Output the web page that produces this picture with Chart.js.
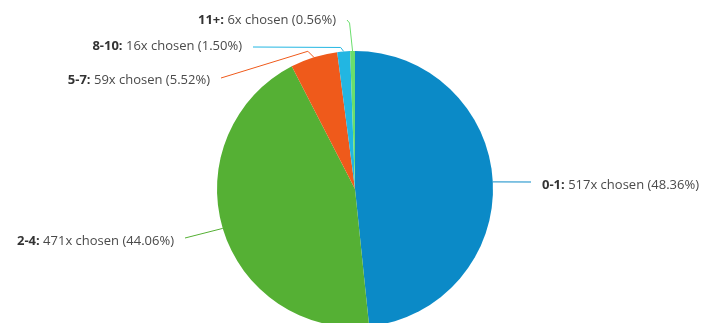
<!DOCTYPE html>
<html>
<head>
<meta charset="utf-8">
<script src="https://cdn.jsdelivr.net/npm/chart.js@4/dist/chart.umd.min.js"></script>
<style>
  html, body { margin: 0; padding: 0; background: #fff; overflow: hidden; }
  #wrap { width: 704px; height: 340px; }
</style>
</head>
<body>
<div id="wrap"><canvas id="c" width="704" height="340"></canvas></div>
<script>
// ---- data ----
const categories = ['0-1', '2-4', '5-7', '8-10', '11+'];
const counts = [517, 471, 59, 16, 6];
const percents = ['48.36%', '44.06%', '5.52%', '1.50%', '0.56%'];
const colors = ['#0b8ac7', '#55b034', '#ef5a1b', '#22b6e2', '#6ade6c'];

// ---- label layout (positions of the text boxes and connector bends) ----
// side: 'right' => text starts at x; 'left' => text ends at x
const labelLayout = [
  { x: 542, y: 185, side: 'right', bend: null, sdy: -3 },
  { x: 174, y: 241, side: 'left',  bend: null, sdy: -3 },
  { x: 210, y: 80,  side: 'left',  bend: { dx: -6, dy: -6 }, sdy: -2 },
  { x: 242, y: 46,  side: 'left',  bend: { dx: -3, dy: -4 }, sdy: 1 },
  { x: 336, y: 20,  side: 'left',  bend: { dx: -3, dy: -28 }, sdy: 0 }
];

const FONT = '"Open Sans", "Noto Sans", sans-serif';
const FS = 13;

const labelPlugin = {
  id: 'pieLabels',
  afterDraw(chart) {
    const ctx = chart.ctx;
    const meta = chart.getDatasetMeta(0);
    ctx.save();
    meta.data.forEach((arc, i) => {
      const p = arc.getProps(['x', 'y', 'startAngle', 'endAngle', 'outerRadius'], true);
      const mid = (p.startAngle + p.endAngle) / 2;
      const ax = p.x + Math.cos(mid) * p.outerRadius;
      const ay = p.y + Math.sin(mid) * p.outerRadius;
      const L = labelLayout[i];
      const boldTxt = categories[i] + ':';
      const restTxt = ' ' + counts[i] + 'x chosen (' + percents[i] + ')';
      ctx.font = 'bold ' + FS + 'px ' + FONT;
      const wb = ctx.measureText(boldTxt).width;
      ctx.font = FS + 'px ' + FONT;
      const wr = ctx.measureText(restTxt).width;
      const total = wb + wr;
      const x0 = L.side === 'right' ? L.x : L.x - total;
      ctx.textBaseline = 'middle';
      ctx.textAlign = 'left';
      ctx.fillStyle = '#333333';
      ctx.font = 'bold ' + FS + 'px ' + FONT;
      ctx.fillText(boldTxt, x0, L.y);
      ctx.fillStyle = '#4a4a4a';
      ctx.font = FS + 'px ' + FONT;
      ctx.fillText(restTxt, x0 + wb, L.y);

      // connector
      const sx = L.side === 'right' ? L.x - 11 : L.x + 11;
      const sy = L.y + L.sdy;
      ctx.beginPath();
      ctx.strokeStyle = colors[i];
      ctx.lineWidth = 1;
      ctx.moveTo(sx, sy);
      if (L.bend) ctx.lineTo(ax + L.bend.dx, ay + L.bend.dy);
      ctx.lineTo(ax, ay);
      ctx.stroke();
    });
    ctx.restore();
  }
};

new Chart(document.getElementById('c'), {
  type: 'pie',
  data: {
    labels: categories,
    datasets: [{
      data: counts,
      backgroundColor: colors,
      borderWidth: 0
    }]
  },
  options: {
    responsive: false,
    animation: false,
    devicePixelRatio: 1,
    layout: { padding: { top: 51, bottom: 13, left: 6, right: 0 } },
    plugins: {
      legend: { display: false },
      tooltip: { enabled: false }
    }
  },
  plugins: [labelPlugin]
});
</script>
</body>
</html>
